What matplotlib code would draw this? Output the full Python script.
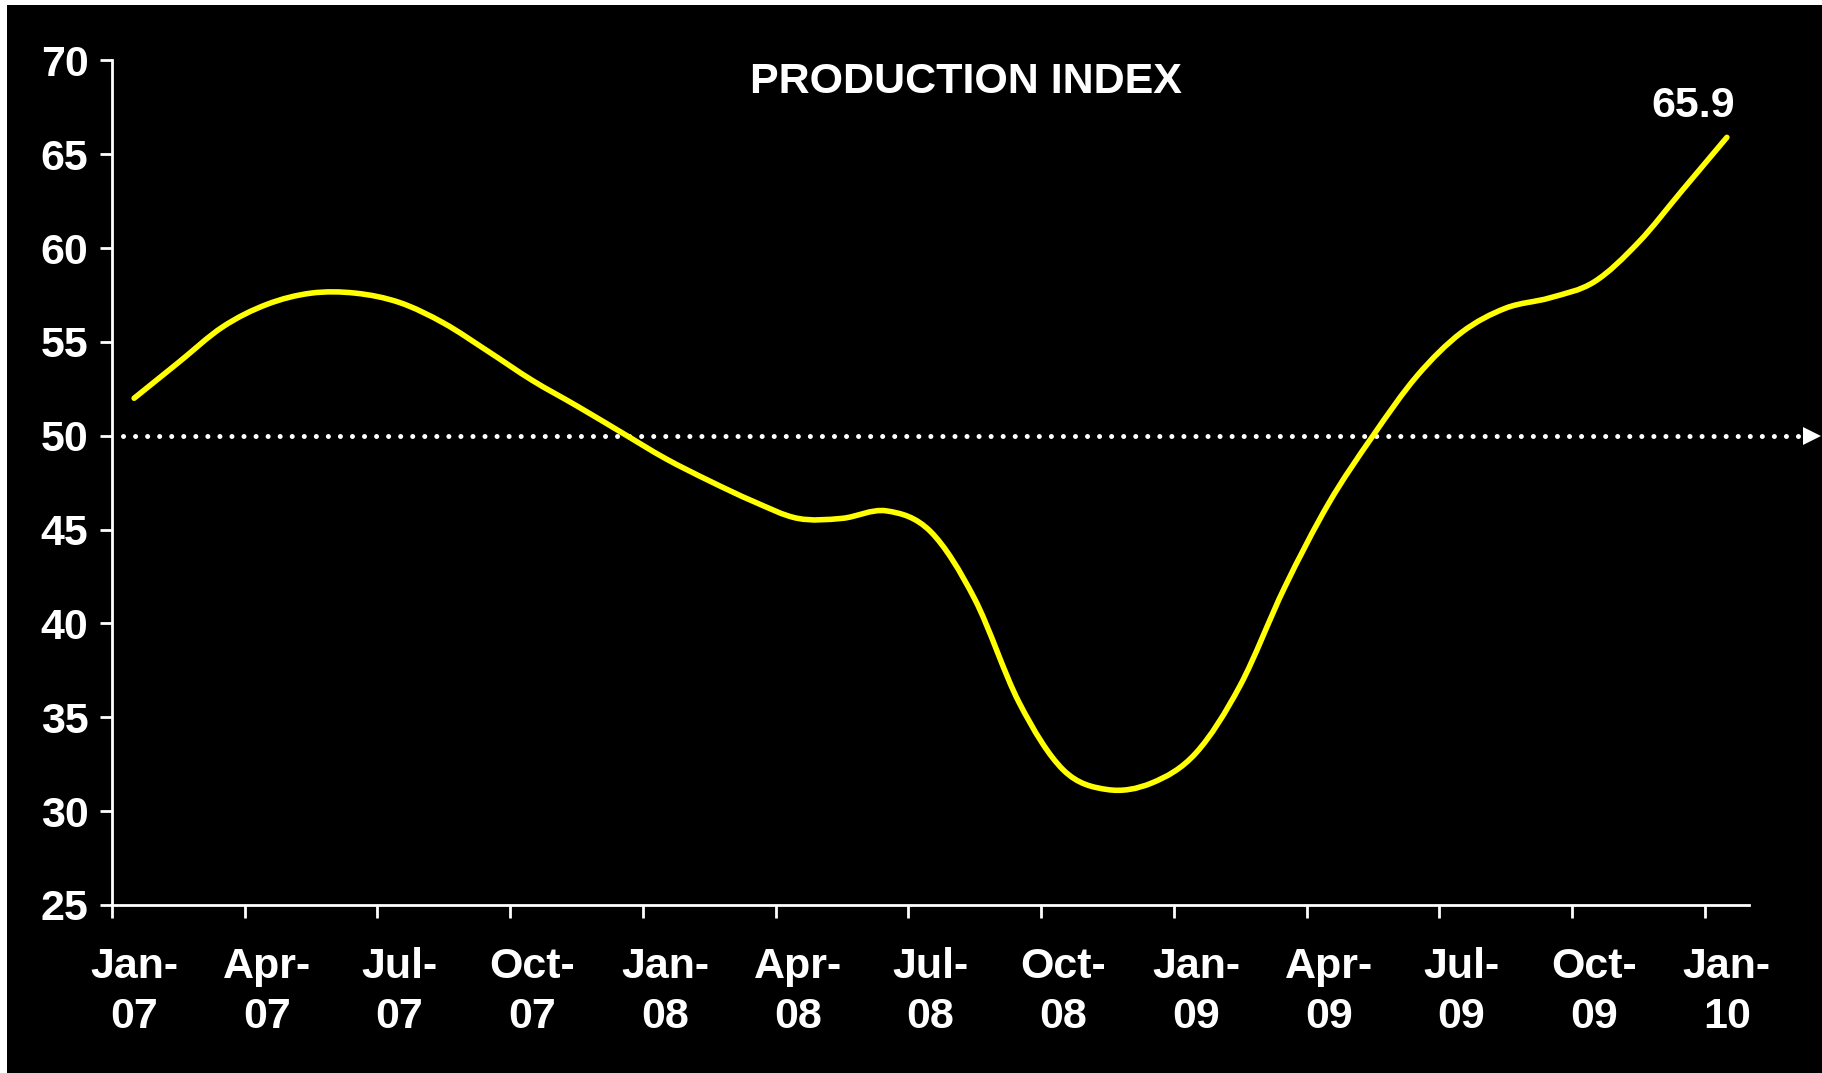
import matplotlib
matplotlib.use("Agg")
import matplotlib.pyplot as plt
import numpy as np
from matplotlib.path import Path
from matplotlib.patches import PathPatch, Rectangle
from matplotlib.transforms import blended_transform_factory

# ---- data -------------------------------------------------------------
months = [
    "Jan-07", "Feb-07", "Mar-07", "Apr-07", "May-07", "Jun-07", "Jul-07",
    "Aug-07", "Sep-07", "Oct-07", "Nov-07", "Dec-07",
    "Jan-08", "Feb-08", "Mar-08", "Apr-08", "May-08", "Jun-08", "Jul-08",
    "Aug-08", "Sep-08", "Oct-08", "Nov-08", "Dec-08",
    "Jan-09", "Feb-09", "Mar-09", "Apr-09", "May-09", "Jun-09", "Jul-09",
    "Aug-09", "Sep-09", "Oct-09", "Nov-09", "Dec-09",
    "Jan-10",
]
production_index = [
    52.0, 53.9, 55.8, 57.0, 57.6, 57.6, 57.1,
    56.0, 54.5, 52.95, 51.6, 50.2,
    48.8, 47.6, 46.5, 45.6, 45.6, 46.0, 44.9,
    41.3, 35.8, 32.2, 31.15, 31.5,
    33.1, 36.7, 41.9, 46.4, 50.0, 53.2, 55.5,
    56.8, 57.35, 58.2, 60.3, 63.1,
    65.9,
]
quarter_labels = [
    "Jan-\n07", "Apr-\n07", "Jul-\n07", "Oct-\n07",
    "Jan-\n08", "Apr-\n08", "Jul-\n08", "Oct-\n08",
    "Jan-\n09", "Apr-\n09", "Jul-\n09", "Oct-\n09",
    "Jan-\n10",
]
y_ticks = [25, 30, 35, 40, 45, 50, 55, 60, 65, 70]
threshold = 50
chart_title = "PRODUCTION INDEX"

# ---- figure -----------------------------------------------------------
W, H, DPI = 1822, 1073, 100
FS = 31
plt.rcParams["font.family"] = ["Liberation Sans", "DejaVu Sans"]
plt.rcParams["font.weight"] = "bold"

fig = plt.figure(figsize=(W / DPI, H / DPI), dpi=DPI, facecolor="black")

# thin white frame on the top and left edges
fig.patches.append(Rectangle((0, 0), 7 / W, 1, transform=fig.transFigure,
                             facecolor="white", edgecolor="none", zorder=0))
fig.patches.append(Rectangle((0, 1 - 5 / H), 1, 5 / H, transform=fig.transFigure,
                             facecolor="white", edgecolor="none", zorder=0))

ax_left, ax_right = 112 / W, 1749 / W
ax_bottom, ax_top = 1 - 905 / H, 1 - 60.4 / H
ax = fig.add_axes([ax_left, ax_bottom, ax_right - ax_left, ax_top - ax_bottom])
ax.set_facecolor("black")

n = len(production_index)
x = np.arange(n, dtype=float)
ax.set_xlim(-0.5, n - 0.5)
ax.set_ylim(min(y_ticks), max(y_ticks))

# smoothed line: cubic Bezier segments through each monthly value
pts = np.column_stack([x, production_index])
ext = np.vstack([pts[0], pts, pts[-1]])
verts = [tuple(pts[0])]
codes = [Path.MOVETO]
for i in range(n - 1):
    p0, p1, p2, p3 = ext[i], ext[i + 1], ext[i + 2], ext[i + 3]
    c1 = p1 + (p2 - p0) / 6.0
    c2 = p2 - (p3 - p1) / 6.0
    verts += [tuple(c1), tuple(c2), tuple(p2)]
    codes += [Path.CURVE4] * 3
ax.add_patch(PathPatch(Path(verts, codes), facecolor="none", edgecolor="#FFFF00",
                       lw=4.0, capstyle="round", joinstyle="round", zorder=3))

# spines
for side in ("top", "right"):
    ax.spines[side].set_visible(False)
for side in ("left", "bottom"):
    ax.spines[side].set_color("white")
    ax.spines[side].set_linewidth(2.0)

# y axis
ax.set_yticks(y_ticks)
ax.set_yticklabels([str(v) for v in y_ticks])
ax.tick_params(axis="y", length=9, width=2, color="white", direction="out",
               pad=8, labelsize=FS, labelcolor="white")

# x axis: tick marks on quarter boundaries, labels centred on the month
ax.set_xticks(np.arange(-0.5, n - 1, 3))
ax.set_xticks(np.arange(0, n, 3), minor=True)
ax.set_xticklabels([])
ax.set_xticklabels(quarter_labels, minor=True)
ax.tick_params(axis="x", which="major", length=9, width=2, color="white",
               direction="out", labelbottom=False)
ax.tick_params(axis="x", which="minor", length=0, pad=30,
               labelsize=FS, labelcolor="white")
for lab in ax.get_xticklabels(minor=True):
    lab.set_multialignment("center")
    lab.set_linespacing(1.32)

# dotted reference line at 50 running past the plot edge, ending in an arrow
blend = blended_transform_factory(fig.transFigure, ax.transData)
ax.plot([123 / W, 1806 / W], [threshold, threshold], transform=blend,
        color="white", lw=3.6, linestyle=(0, (0.01, 2.4)),
        dash_capstyle="round", clip_on=False, zorder=2)
ax.plot([1812 / W], [threshold], transform=blend, marker=">", markersize=13,
        color="white", markeredgewidth=0, clip_on=False, zorder=2)

# title and end-value label
fig.text(966 / W, 1 - 93 / H, chart_title, ha="center", va="baseline",
         color="white", fontsize=FS, fontweight="bold")
ax.annotate(f"{production_index[-1]:.1f}", xy=(x[-1], production_index[-1]),
            xytext=(-24.5, 15), textcoords="offset points",
            ha="center", va="baseline", color="white", fontsize=FS,
            fontweight="bold")

fig.savefig("out.png", dpi=DPI, facecolor=fig.get_facecolor())
